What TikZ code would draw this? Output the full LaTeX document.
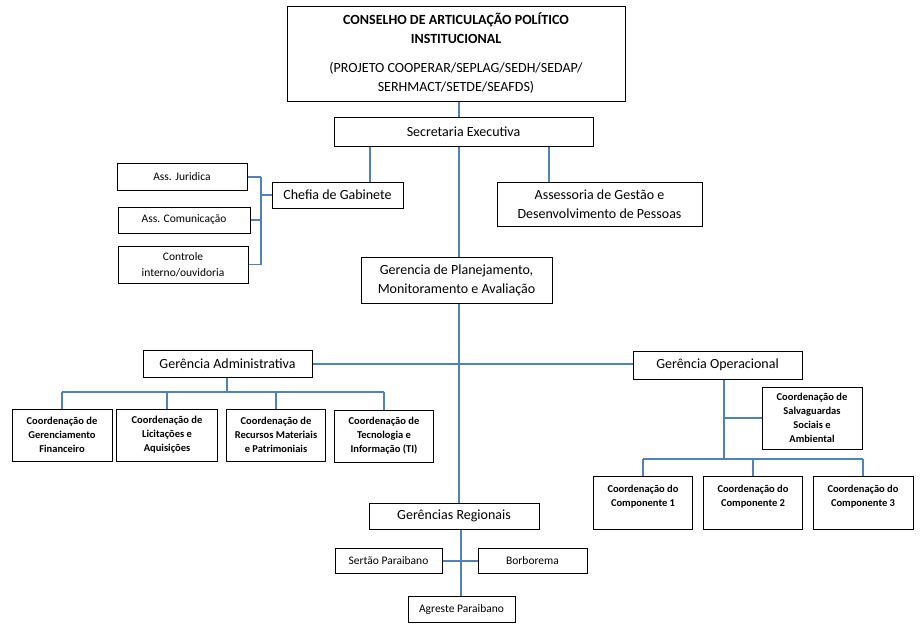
\documentclass[tikz,border=0pt]{standalone}
\usepackage{fontspec}
\setmainfont{Carlito}
\definecolor{conn}{HTML}{4F81BD}
\tikzset{
  box/.style={draw=black, line width=1pt, align=center, inner sep=0pt, fill=white,
    font=\fontsize{14}{19}\selectfont},
  sbox/.style={box, font=\fontsize{11.5}{16}\selectfont},
  bbox/.style={box, font=\bfseries\fontsize{10.5}{14}\selectfont},
  link/.style={draw=conn, line width=1.1pt},
}
\begin{document}
\begin{tikzpicture}[x=1pt,y=-1pt]
\useasboundingbox (0,0) rectangle (924,625);
% nodes
\node[box, minimum width=338, minimum height=95] (cons) at (456,53.5) {\textbf{CONSELHO DE ARTICULAÇÃO POLÍTICO}\\\textbf{INSTITUCIONAL}\\[10pt](PROJETO COOPERAR/SEPLAG/SEDH/SEDAP/\\SERHMACT/SETDE/SEAFDS)};
\node[box, minimum width=259, minimum height=29] (sec) at (463.5,131.5) {Secretaria Executiva};
\node[box, minimum width=131, minimum height=26] (chefia) at (337.5,195) {Chefia de Gabinete};
\node[sbox, minimum width=130, minimum height=27] (jur) at (182,177) {Ass. Juridica};
\node[sbox, minimum width=132, minimum height=26] (com) at (184,220) {Ass. Comunicação};
\node[sbox, minimum width=130, minimum height=37] (ctrl) at (183,264.5) {Controle\\interno/ouvidoria};
\node[box, minimum width=205, minimum height=44] (assess) at (599.5,204) {Assessoria de Gestão e\\Desenvolvimento de Pessoas};
\node[box, minimum width=191, minimum height=46] (plan) at (456.5,280) {Gerencia de Planejamento,\\Monitoramento e Avaliação};
\node[box, minimum width=169, minimum height=27] (adm) at (227.5,364) {Gerência Administrativa};
\node[box, minimum width=169, minimum height=28] (op) at (717.5,365) {Gerência Operacional};
\node[bbox, minimum width=100, minimum height=52] (c1) at (62,435) {Coordenação de\\Gerenciamento\\Financeiro};
\node[bbox, minimum width=101, minimum height=52] (c2) at (167,435) {Coordenação de\\Licitações e\\Aquisições};
\node[bbox, minimum width=99, minimum height=52] (c3) at (276,435) {Coordenação de\\Recursos Materiais\\e Patrimoniais};
\node[bbox, minimum width=99, minimum height=52] (c4) at (384,436) {Coordenação de\\Tecnologia e\\Informação (TI)};
\node[bbox, minimum width=100, minimum height=62] (salv) at (812,418) {Coordenação de\\Salvaguardas\\Sociais e\\Ambiental};
\node[bbox, minimum width=99, minimum height=53] (k1) at (643,502.5) {Coordenação do\\Componente 1\\\mbox{}};
\node[bbox, minimum width=99, minimum height=53] (k2) at (753,502.5) {Coordenação do\\Componente 2\\\mbox{}};
\node[bbox, minimum width=100, minimum height=53] (k3) at (863,502.5) {Coordenação do\\Componente 3\\\mbox{}};
\node[box, minimum width=170, minimum height=26] (reg) at (454,516) {Gerências Regionais};
\node[sbox, minimum width=107, minimum height=25] (sert) at (388.5,561) {Sertão Paraibano};
\node[sbox, minimum width=109, minimum height=25] (borb) at (532.5,561) {Borborema};
\node[sbox, minimum width=107, minimum height=26] (agr) at (461.5,609) {Agreste Paraibano};
% helper coordinates
\coordinate (trunk) at (459,0);
\coordinate (chx) at (370,0);
\coordinate (asx) at (549,0);
\coordinate (br) at (261,0);
\coordinate (admx) at (227,0);
\coordinate (abus) at (0,392);
\coordinate (opx) at (724,0);
\coordinate (obus) at (0,459);
\coordinate (rx) at (461,0);
% connectors
\draw[link] (trunk |- cons.south) -- (trunk |- sec.north);
\draw[link] (trunk |- sec.south) -- (trunk |- plan.north);
\draw[link] (trunk |- plan.south) -- (trunk |- reg.north);
\draw[link] (chx |- sec.south) -- (chx |- chefia.north);
\draw[link] (asx |- sec.south) -- (asx |- assess.north);
\draw[link] (jur.east) -- (br |- jur.east);
\draw[link] (com.east) -- (br |- com.east);
\draw[link] (ctrl.east) -- (br |- ctrl.east);
\draw[link] (br |- jur.east) -- (br |- ctrl.east);
\draw[link] (br |- chefia.west) -- (chefia.west);
\draw[link] (adm.east) -- (adm.east -| op.west);
\draw[link] (admx |- adm.south) -- (admx |- abus);
\draw[link] (c1.north |- abus) -- (c4.north |- abus);
\foreach \n in {c1,c2,c3,c4} \draw[link] (\n.north |- abus) -- (\n.north);
\draw[link] (opx |- op.south) -- (opx |- obus);
\draw[link] (opx |- salv.west) -- (salv.west);
\draw[link] (k1.north |- obus) -- (k3.north |- obus);
\foreach \n in {k1,k2,k3} \draw[link] (\n.north |- obus) -- (\n.north);
\draw[link] (rx |- reg.south) -- (rx |- agr.north);
\draw[link] (sert.east) -- (borb.west);
\end{tikzpicture}
\end{document}
